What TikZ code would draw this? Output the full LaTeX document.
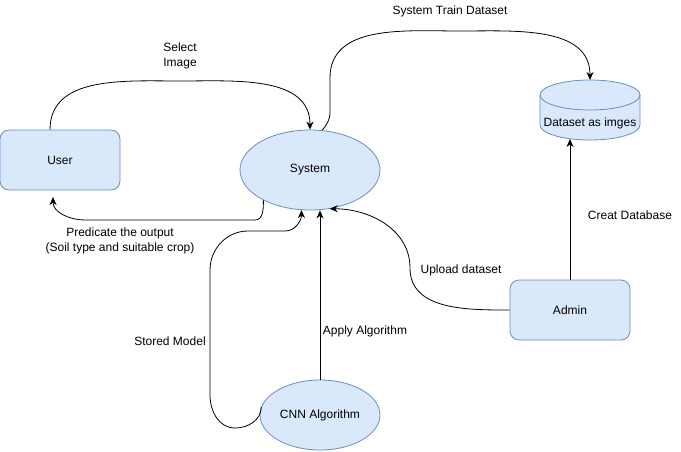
\documentclass[tikz,border=0pt]{standalone}
\usepackage{fontspec}
\setmainfont{Liberation Sans}
\usetikzlibrary{shapes.geometric,arrows.meta}
\definecolor{boxfill}{HTML}{DAE8FC}
\definecolor{boxline}{HTML}{6C8EBF}

\begin{document}
\begin{tikzpicture}[x=1pt,y=1pt,
    font=\fontsize{12}{14.5}\selectfont,
    entity/.style={draw=boxline,fill=boxfill,line width=0.8pt},
    actor/.style={entity,rectangle,rounded corners=9pt,minimum width=120pt,minimum height=60pt},
    process/.style={entity,ellipse,inner sep=0pt},
    flow/.style={-{Stealth[length=8pt,width=7pt,inset=2.5pt]},line width=0.8pt},
    lbl/.style={align=center,inner sep=1pt}]
    \useasboundingbox (0,0) rectangle (681,-451);
    \node[actor] (user) at (60,-160) {User};
    \node[process,minimum width=140pt,minimum height=80pt] (sys) at (310,-170) {System};
    \node[process,minimum width=120pt,minimum height=70pt] (cnn) at (320,-415) {CNN Algorithm};
    \node[actor] (admin) at (570,-310) {Admin};
    \draw[entity] (540,-95) -- (540,-125) arc[start angle=180,end angle=360,x radius=50pt,y radius=15pt]
        -- (640,-95) arc[start angle=0,end angle=180,x radius=50pt,y radius=15pt] -- cycle;
    \draw[boxline,line width=0.8pt] (540,-95) arc[start angle=180,end angle=360,x radius=50pt,y radius=15pt];
    \node (data) at (590,-123) {Dataset as imges};
    \coordinate (dtop) at (590,-80);
    \coordinate (dbase) at (570,-139);
    \coordinate (uback) at (53,-197);
    \draw[flow] ([xshift=-10pt]user.north) to[out=90,in=180] (180,-81) to[out=0,in=90] (sys.north);
    \draw[flow] (sys.213) to[out=-90,in=0] (255,-220) -- (85,-220) to[out=180,in=-90] (uback);
    \draw[flow] (sys.73) to[out=50,in=-90] (330,-112) -- (330,-78) to[out=90,in=180] (460,-31) to[out=0,in=90] (dtop);
    \draw[flow] (admin.north) -- (dbase);
    \draw[flow] (admin.west) to[out=180,in=-90] (410,-268) to[out=90,in=0] (sys.-63);
    \draw[flow] (cnn.north) -- (cnn.north |- sys.south);
    \draw[flow] (cnn.172) to[out=-90,in=0] (235,-428) to[out=180,in=-90] (210,-395) -- (210,-270)
        to[out=90,in=180] (248,-231) -- (285,-231) to[out=0,in=-90] (sys.258);
    \node[lbl] (selimg) at (180,-56) {Select\\Image};
    \node[lbl] (predout) at (120,-241) {Predicate the output\\(Soil type and suitable crop)};
    \node[lbl] (train) at (450,-11) {System Train Dataset};
    \node[lbl] (creat) at (630,-215) {Creat Database};
    \node[lbl] (upload) at (461,-270) {Upload dataset};
    \node[lbl] (apply) at (365,-331) {Apply Algorithm};
    \node[lbl] (stored) at (170,-341) {Stored Model};
\end{tikzpicture}
\end{document}
